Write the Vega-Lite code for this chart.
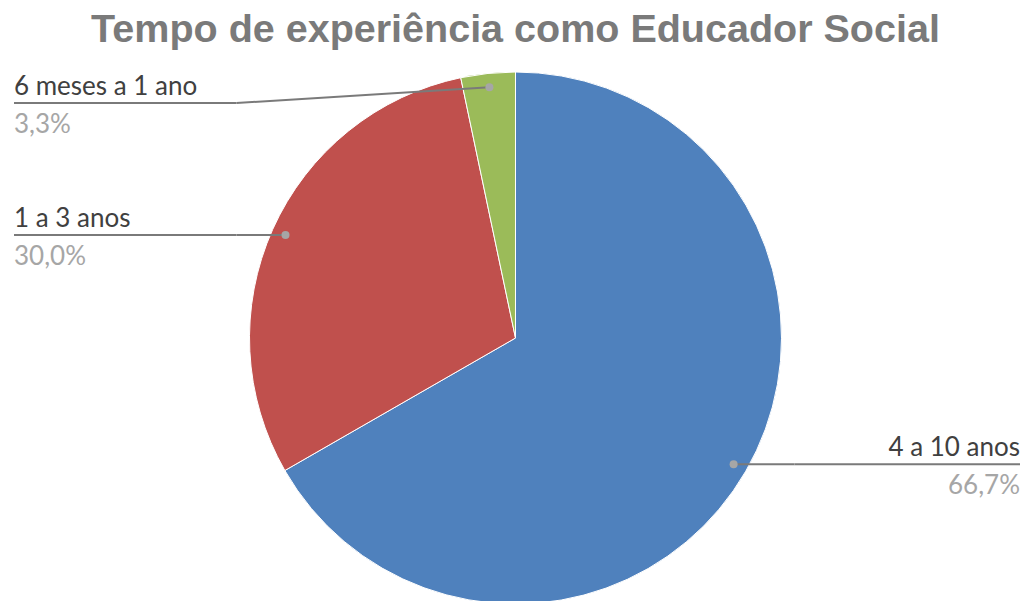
{
  "$schema": "https://vega.github.io/schema/vega-lite/v6.json",
  "width": 1031,
  "height": 526,
  "autosize": {"type": "none"},
  "padding": {"top": 75, "left": 0, "right": 0, "bottom": 0},
  "background": "white",
  "title": {
    "text": "Tempo de experiência como Educador Social",
    "font": "Liberation Sans",
    "fontSize": 39.5,
    "fontWeight": "bold",
    "color": "#7a7a7a",
    "anchor": "middle",
    "baseline": "alphabetic",
    "offset": -11
  },
  "config": {
    "view": {"stroke": null},
    "locale": {"number": {"decimal": ",", "thousands": ".", "grouping": [3], "currency": ["", "€"]}}
  },
  "data": {
    "values": [
      {"categoria": "4 a 10 anos", "valor": 66.7, "ordem": 1},
      {"categoria": "1 a 3 anos", "valor": 30.0, "ordem": 2},
      {"categoria": "6 meses a 1 ano", "valor": 3.3, "ordem": 3}
    ]
  },
  "transform": [
    {"joinaggregate": [{"op": "sum", "field": "valor", "as": "total"}]},
    {"stack": "valor", "groupby": [], "sort": [{"field": "ordem", "order": "ascending"}], "as": ["v0", "v1"]},
    {"calculate": "PI*(datum.v0+datum.v1)/datum.total", "as": "meio"},
    {"calculate": "252*sin(datum.meio)", "as": "px"},
    {"calculate": "252*cos(datum.meio)", "as": "py"},
    {"calculate": "datum.px<0?-1:1", "as": "lado"},
    {"calculate": "min(datum.py,235)", "as": "ly"},
    {"calculate": "datum.lado<0?min(datum.px,-279):max(datum.px,279)", "as": "ex"},
    {"calculate": "datum.lado<0?-501.5:504.5", "as": "bx"},
    {"calculate": "datum.valor/datum.total", "as": "pct"}
  ],
  "layer": [
    {
      "mark": {"type": "arc", "radius": 266, "stroke": "white", "strokeWidth": 1},
      "encoding": {
        "theta": {"field": "valor", "type": "quantitative", "stack": true},
        "color": {
          "field": "categoria",
          "type": "nominal",
          "scale": {"domain": ["4 a 10 anos", "1 a 3 anos", "6 meses a 1 ano"], "range": ["#4F81BD", "#C0504D", "#9BBB59"]},
          "legend": null
        },
        "order": {"field": "ordem", "type": "quantitative"}
      }
    },
    {
      "mark": {"type": "rule", "color": "#7a7a7a", "strokeWidth": 2},
      "encoding": {
        "x": {"field": "px", "type": "quantitative", "scale": {"domain": [-515.5, 515.5], "nice": false, "zero": false}, "axis": null},
        "y": {"field": "py", "type": "quantitative", "scale": {"domain": [-263, 263], "nice": false, "zero": false}, "axis": null},
        "x2": {"field": "ex"},
        "y2": {"field": "ly"}
      }
    },
    {
      "mark": {"type": "rule", "color": "#7a7a7a", "strokeWidth": 2},
      "encoding": {
        "x": {"field": "ex", "type": "quantitative"},
        "y": {"field": "ly", "type": "quantitative"},
        "x2": {"field": "bx"},
        "y2": {"field": "ly"}
      }
    },
    {
      "mark": {"type": "point", "filled": true, "color": "#a6a6a6", "size": 64, "opacity": 1},
      "encoding": {
        "x": {"field": "px", "type": "quantitative"},
        "y": {"field": "py", "type": "quantitative"}
      }
    },
    {
      "transform": [{"filter": "datum.lado < 0"}],
      "mark": {"type": "text", "align": "left", "baseline": "alphabetic", "dy": -8, "font": "Lato", "fontSize": 26, "color": "#404040"},
      "encoding": {
        "x": {"field": "bx", "type": "quantitative"},
        "y": {"field": "ly", "type": "quantitative"},
        "text": {"field": "categoria"}
      }
    },
    {
      "transform": [{"filter": "datum.lado < 0"}],
      "mark": {"type": "text", "align": "left", "baseline": "alphabetic", "dy": 30, "font": "Lato", "fontSize": 26, "color": "#a6a6a6"},
      "encoding": {
        "x": {"field": "bx", "type": "quantitative"},
        "y": {"field": "ly", "type": "quantitative"},
        "text": {"field": "pct", "type": "quantitative", "format": ".1%"}
      }
    },
    {
      "transform": [{"filter": "datum.lado > 0"}],
      "mark": {"type": "text", "align": "right", "baseline": "alphabetic", "dy": -8, "font": "Lato", "fontSize": 26, "color": "#404040"},
      "encoding": {
        "x": {"field": "bx", "type": "quantitative"},
        "y": {"field": "ly", "type": "quantitative"},
        "text": {"field": "categoria"}
      }
    },
    {
      "transform": [{"filter": "datum.lado > 0"}],
      "mark": {"type": "text", "align": "right", "baseline": "alphabetic", "dy": 30, "font": "Lato", "fontSize": 26, "color": "#a6a6a6"},
      "encoding": {
        "x": {"field": "bx", "type": "quantitative"},
        "y": {"field": "ly", "type": "quantitative"},
        "text": {"field": "pct", "type": "quantitative", "format": ".1%"}
      }
    }
  ]
}
